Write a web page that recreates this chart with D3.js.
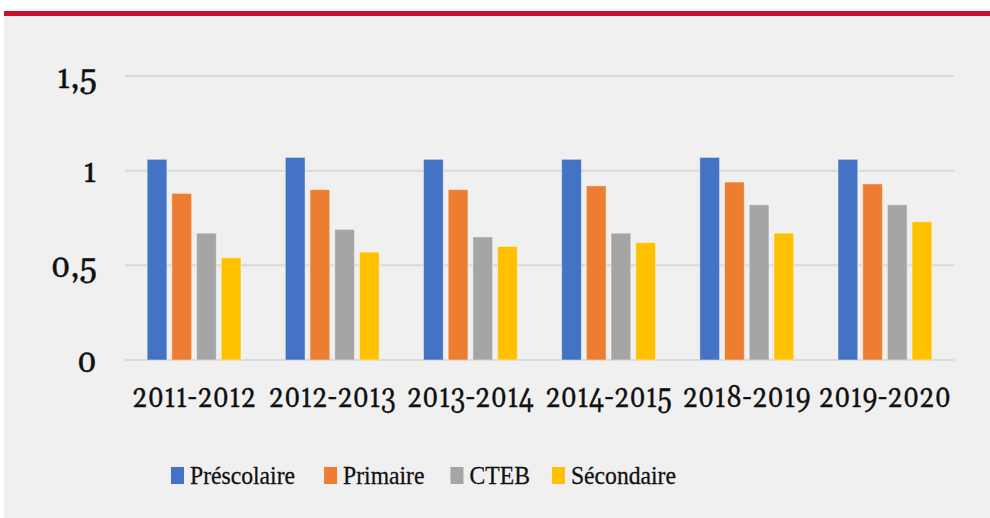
<!DOCTYPE html>
<html>
<head>
<meta charset="utf-8">
<script src="https://cdn.jsdelivr.net/npm/d3@7/dist/d3.min.js"></script>
<style>
  html, body { margin: 0; padding: 0; background: #ffffff; }
  svg { display: block; }
</style>
</head>
<body>
<svg id="chart" width="990" height="518"></svg>
<script>
const categories = ["2011-2012", "2012-2013", "2013-2014", "2014-2015", "2018-2019", "2019-2020"];
const seriesNames = ["Préscolaire", "Primaire", "CTEB", "Sécondaire"];
const prescolaire = [1.06, 1.07, 1.06, 1.06, 1.07, 1.06];
const primaire    = [0.88, 0.90, 0.90, 0.92, 0.94, 0.93];
const cteb        = [0.67, 0.69, 0.65, 0.67, 0.82, 0.82];
const secondaire  = [0.54, 0.57, 0.60, 0.62, 0.67, 0.73];
const yTicks = [0, 0.5, 1, 1.5];
const yTickLabels = ["0", "0,5", "1", "1,5"];
const colors = ["#4472C4", "#ED7D31", "#A5A5A5", "#FFC000"];

const seriesValues = [prescolaire, primaire, cteb, secondaire];

const axisFont = "Gelasio, Georgia, 'DejaVu Serif', serif";
const legendFont = "'Liberation Serif', 'Times New Roman', serif";

const svg = d3.select("#chart");

// backgrounds
svg.append("rect").attr("x", 4).attr("y", 16).attr("width", 986).attr("height", 502).attr("fill", "#F0F0F0");
svg.append("rect").attr("x", 4).attr("y", 11).attr("width", 986).attr("height", 5).attr("fill", "#C8102E");

const plot = { left: 125, right: 954, top: 76, bottom: 360 };

const x = d3.scaleBand().domain(categories).range([plot.left, plot.right]).paddingInner(0).paddingOuter(0);
const y = d3.scaleLinear().domain([0, 1.5]).range([plot.bottom, plot.top]);

const groupWidth = 98.8;
const xInner = d3.scaleBand().domain(seriesNames).range([0, groupWidth]).paddingInner(0.2).paddingOuter(0.1);

// gridlines
svg.append("g").selectAll("line").data(yTicks).join("line")
  .attr("x1", plot.left).attr("x2", plot.right)
  .attr("y1", d => y(d)).attr("y2", d => y(d))
  .attr("stroke", "#D9D9D9").attr("stroke-width", 2);

// y labels
svg.append("g").selectAll("g").data(yTicks).join("g")
  .attr("transform", d => `translate(97,${y(d) + 11.5})`)
  .append("text")
  .attr("text-anchor", "end")
  .attr("font-family", axisFont)
  .attr("font-size", 33)
  .attr("fill", "#111")
  .attr("stroke", "#111").attr("stroke-width", 0.3)
  .text((d, i) => yTickLabels[i]);

// bars
const barData = [];
categories.forEach((c, ci) => {
  seriesNames.forEach((s, si) => {
    barData.push({ cat: c, series: s, si: si, value: seriesValues[si][ci] });
  });
});

svg.append("g").selectAll("rect").data(barData).join("rect")
  .attr("x", d => x(d.cat) + x.bandwidth() / 2 - groupWidth / 2 + xInner(d.series))
  .attr("width", xInner.bandwidth())
  .attr("y", d => y(d.value))
  .attr("height", d => y(0) - y(d.value))
  .attr("fill", d => colors[d.si])
  .attr("stroke", "rgba(255,255,255,0.45)")
  .attr("stroke-width", 1);

// x labels
svg.append("g").selectAll("g").data(categories).join("g")
  .attr("transform", d => `translate(${x(d) + x.bandwidth() / 2},407)`)
  .append("text")
  .attr("transform", "scale(0.82,1)")
  .attr("text-anchor", "middle")
  .attr("font-family", axisFont)
  .attr("font-size", 33)
  .attr("fill", "#111")
  .attr("stroke", "#111").attr("stroke-width", 0.25)
  .text(d => d);

// legend
const legend = svg.append("g");
const legendScale = 0.91;
let lx = 171;
const gaps = [29, 26, 22];
seriesNames.forEach((s, i) => {
  legend.append("rect").attr("x", lx).attr("y", 467).attr("width", 13).attr("height", 17).attr("fill", colors[i]);
  const t = legend.append("g").attr("transform", `translate(${lx + 19},484)`)
    .append("text")
    .attr("transform", `scale(${legendScale},1)`)
    .attr("font-family", legendFont)
    .attr("font-size", 26)
    .attr("fill", "#111")
    .attr("stroke", "#111").attr("stroke-width", 0.3)
    .text(s);
  const w = t.node().getComputedTextLength() * legendScale;
  lx = lx + 19 + w + (gaps[i] || 0);
});
</script>
</body>
</html>
